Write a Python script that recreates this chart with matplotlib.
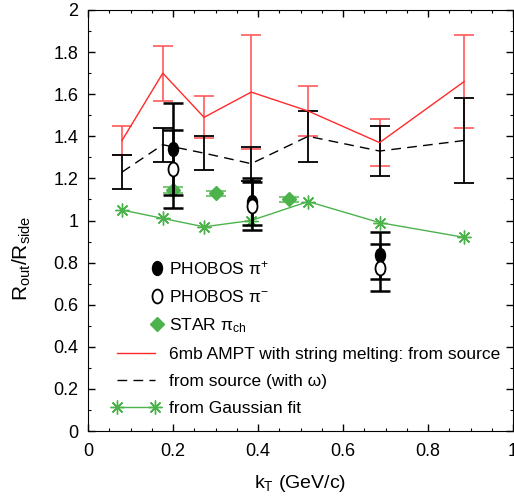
import numpy as np
import matplotlib
matplotlib.use('Agg')
import matplotlib.pyplot as plt
from matplotlib.path import Path
from matplotlib.transforms import Affine2D
from matplotlib.lines import Line2D

plt.rcParams['font.family'] = 'Liberation Sans'
plt.rcParams['mathtext.fontset'] = 'custom'
plt.rcParams['mathtext.rm'] = 'Liberation Sans'
plt.rcParams['mathtext.it'] = 'Liberation Sans:italic'

# AMPT model points
kt_model = [0.08, 0.176, 0.273, 0.384, 0.518, 0.686, 0.885]
ratio_src = [1.38, 1.70, 1.49, 1.61, 1.52, 1.37, 1.66]
err_src = [0.07, 0.13, 0.10, 0.27, 0.12, 0.11, 0.22]
ratio_omega = [1.23, 1.36, 1.32, 1.27, 1.40, 1.33, 1.38]
err_omega = [0.08, 0.08, 0.08, 0.08, 0.12, 0.12, 0.20]
ratio_gauss = [1.05, 1.01, 0.97, 1.00, 1.09, 0.99, 0.92]

# PHOBOS data
kt_phobos = [0.199, 0.387, 0.688]
pip = [1.34, 1.09, 0.835]
pip_err = [0.217, 0.11, 0.112]
pim = [1.245, 1.07, 0.775]
pim_err = [0.185, 0.115, 0.112]

# STAR data
kt_star = [0.2, 0.3, 0.473]
star = [1.145, 1.13, 1.10]
star_err = [0.012, 0.012, 0.012]

red = '#ff2a2a'
red_bar = '#ff5a5a'
green = '#4cb34c'

# slightly tall ellipse marker
ellipse = Path.unit_circle().transformed(Affine2D().scale(0.72, 1.0))
asterisk = (8, 2, 0)
dash = (0, (7, 4.5))

fig = plt.figure(figsize=(5.14, 5.01), dpi=100)
ax = fig.add_axes([88/514, 70/501, 425/514, 421/501])

ax.errorbar(kt_model, ratio_src, yerr=err_src, color=red, ecolor=red_bar,
            lw=1.0, elinewidth=1.2, capsize=7, capthick=1.2, zorder=3)
ax.errorbar(kt_model, ratio_omega, yerr=err_omega, color='black', ls=dash,
            lw=1.0, elinewidth=1.3, capsize=7, capthick=1.3, zorder=3)
ax.plot(kt_model, ratio_gauss, color=green, lw=1.0, marker=asterisk,
        markersize=10, markeredgewidth=1.0, zorder=4)

ax.errorbar(kt_star, star, yerr=star_err, fmt='none', ecolor='#7dc87d',
            elinewidth=1.2, capsize=7, capthick=1.5, zorder=4)
ax.plot(kt_star, star, ls='none', marker='D', markersize=7, color=green, zorder=5)

ax.errorbar(kt_phobos, pip, yerr=pip_err, fmt='none', ecolor='black',
            elinewidth=1.8, capsize=7, capthick=1.8, zorder=5)
ax.errorbar(kt_phobos, pim, yerr=pim_err, fmt='none', ecolor='black',
            elinewidth=1.8, capsize=7, capthick=1.8, zorder=5)
ax.plot(kt_phobos, pip, ls='none', marker=ellipse, markersize=10,
        color='black', zorder=6)
ax.plot(kt_phobos, pim, ls='none', marker=ellipse, markersize=10,
        markerfacecolor='white', markeredgecolor='black', markeredgewidth=1.3, zorder=7)

ax.set_xlim(0, 1)
ax.set_ylim(0, 2)
ax.set_xticks(np.arange(0, 1.01, 0.2))
ax.set_xticklabels(['0', '0.2', '0.4', '0.6', '0.8', '1'])
ax.set_xticks(np.arange(0, 1.001, 0.05), minor=True)
ax.set_yticks(np.arange(0, 2.01, 0.2))
ax.set_yticklabels(['0', '0.2', '0.4', '0.6', '0.8', '1', '1.2', '1.4', '1.6', '1.8', '2'])
ax.set_yticks(np.arange(0, 2.001, 0.1), minor=True)
ax.tick_params(which='both', direction='in', top=True, right=True, labelsize=13)
ax.tick_params(which='major', length=5, width=1)
ax.tick_params(which='minor', length=2.5, width=0.8)
ax.tick_params(axis='x', pad=9)
ax.tick_params(axis='y', pad=7)

ax.set_xlabel(r'k$_{\rm T}$ (GeV/c)', fontsize=14)
ax.set_ylabel(r'R$_{\rm out}$/R$_{\rm side}$', fontsize=15)
ax.xaxis.set_label_coords(0.5, -0.1)
ax.yaxis.set_label_coords(-0.13, 0.41)

# legend for data points
pt_handles = [
    Line2D([], [], ls='none', marker=ellipse, markersize=10, color='black'),
    Line2D([], [], ls='none', marker=ellipse, markersize=10,
           markerfacecolor='white', markeredgecolor='black', markeredgewidth=1.3),
    Line2D([], [], ls='none', marker='D', markersize=7, color=green),
]
leg1 = ax.legend(pt_handles, ['PHOBOS π$^{+}$', 'PHOBOS π$^{-}$', 'STAR π$_{\\rm ch}$'],
                 loc='upper left', bbox_to_anchor=(0.145, 0.408), frameon=False,
                 fontsize=12.5, handlelength=0.8, handletextpad=0.3,
                 labelspacing=0.66, borderpad=0, borderaxespad=0)
ax.add_artist(leg1)

# legend for model curves
ln_handles = [
    Line2D([], [], color=red, lw=1.0),
    Line2D([], [], color='black', lw=1.0, ls=dash),
    Line2D([], [], color=green, lw=1.0, marker=asterisk, markersize=10,
           markeredgewidth=1.0),
]
ax.legend(ln_handles, ['6mb AMPT with string melting: from source',
                       'from source (with ω)', 'from Gaussian fit'],
          loc='upper left', bbox_to_anchor=(0.055, 0.2), frameon=False,
          fontsize=12.5, handlelength=2.8, handletextpad=0.5, numpoints=2,
          labelspacing=0.68, borderpad=0, borderaxespad=0)

fig.savefig('out.png', dpi=100)
